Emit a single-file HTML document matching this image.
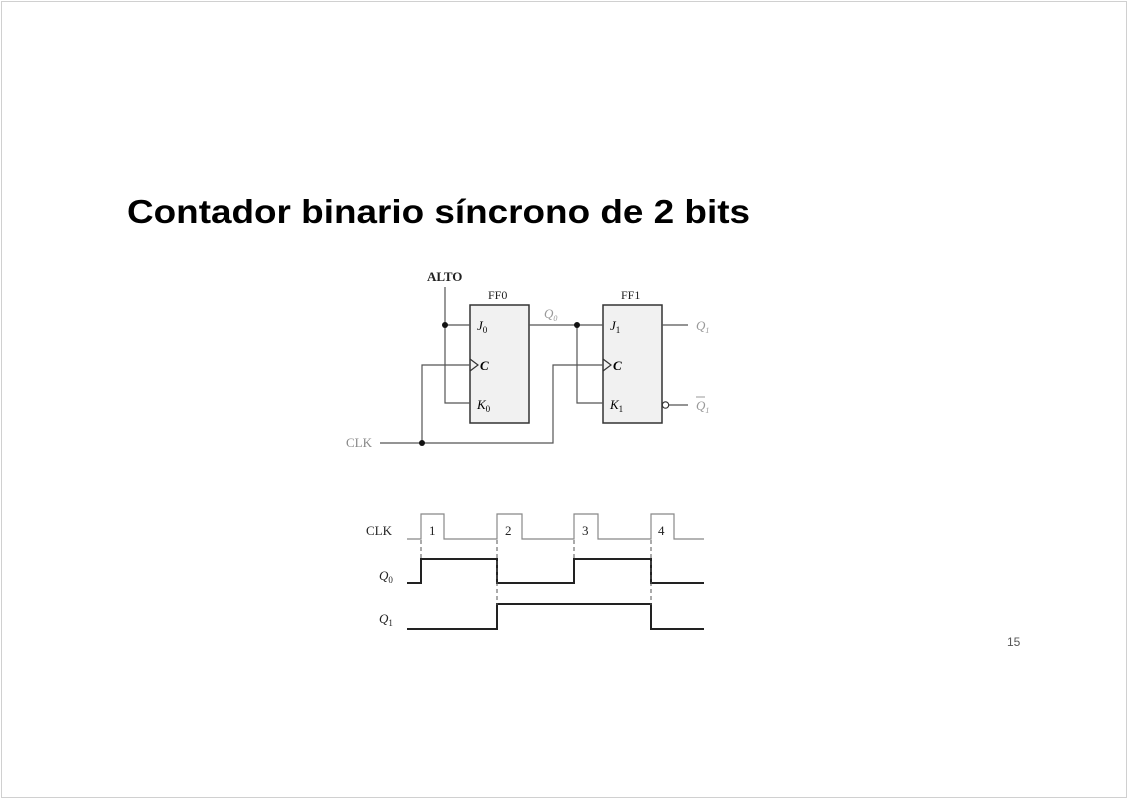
<!DOCTYPE html>
<html><head><meta charset="utf-8"><style>
html,body{margin:0;padding:0;background:#fff}
body{width:1128px;height:800px;overflow:hidden;position:relative}
</style></head><body>
<svg width="1128" height="800" xmlns="http://www.w3.org/2000/svg" style="position:absolute;left:0;top:0">
<rect x="1.5" y="1.5" width="1125" height="796" fill="#fff" stroke="#d0d0d0" stroke-width="1"/>
<text x="127" y="223" font-family="Liberation Sans, sans-serif" font-weight="bold" font-size="33" fill="#000" textLength="623" lengthAdjust="spacingAndGlyphs">Contador binario síncrono de 2 bits</text>
<text x="1007" y="646" font-family="Liberation Sans, sans-serif" font-size="12" fill="#555">15</text>
<g font-family="Liberation Serif, serif" font-size="13">
<rect x="470" y="305" width="59" height="118" fill="#f1f1f1" stroke="#333" stroke-width="1.5"/>
<rect x="603" y="305" width="59" height="118" fill="#f1f1f1" stroke="#333" stroke-width="1.5"/>
<g stroke="#555" stroke-width="1.2" fill="none">
<path d="M445 287V403H470M445 325H470"/>
<path d="M380 443H553V365H603M422 443V365H470"/>
<path d="M529 325H603M577 325V403H603"/>
<path d="M662 325H688M669 405H688"/>
<path d="M470 359L478 365L470 371M603 359L611 365L603 371" stroke="#333"/>
</g>
<circle cx="665.5" cy="405" r="3.2" fill="#fff" stroke="#333" stroke-width="1.2"/>
<circle cx="445" cy="325" r="3" fill="#111"/>
<circle cx="577" cy="325" r="3" fill="#111"/>
<circle cx="422" cy="443" r="3" fill="#111"/>
<text x="427" y="281" fill="#222" font-size="13" font-weight="bold">ALTO</text>
<text x="488" y="299" fill="#222" font-size="12">FF0</text>
<text x="621" y="299" fill="#222" font-size="12">FF1</text>
<text x="346" y="447" fill="#888">CLK</text>
<text x="544" y="318" fill="#999" font-style="italic">Q<tspan font-size="8" dy="3">0</tspan></text>
<text x="477" y="330" font-style="italic">J<tspan font-size="9" dy="3" font-style="normal">0</tspan></text>
<text x="477" y="409" font-style="italic">K<tspan font-size="9" dy="3" font-style="normal">0</tspan></text>
<text x="610" y="330" font-style="italic">J<tspan font-size="9" dy="3" font-style="normal">1</tspan></text>
<text x="610" y="409" font-style="italic">K<tspan font-size="9" dy="3" font-style="normal">1</tspan></text>
<text x="480" y="370" font-style="italic" font-weight="bold">C</text>
<text x="613" y="370" font-style="italic" font-weight="bold">C</text>
<text x="696" y="330" fill="#999" font-style="italic">Q<tspan font-size="8" dy="3">1</tspan></text>
<text x="696" y="410" fill="#999" font-style="italic">Q<tspan font-size="8" dy="3">1</tspan></text>
<path d="M696 397H705" stroke="#999" stroke-width="1"/>
</g>
<g font-family="Liberation Serif, serif" font-size="13" fill="#222">
<path d="M407 539H421V514H444V539H497V514H522V539H574V514H598V539H651V514H674V539H704" stroke="#888" stroke-width="1.2" fill="none"/>
<path d="M407 583H421V559H497V583H574V559H651V583H704" stroke="#222" stroke-width="2" fill="none"/>
<path d="M407 629H497V604H651V629H704" stroke="#222" stroke-width="2" fill="none"/>
<path d="M421 540V560M497 540V605M574 540V560M651 540V605" stroke="#555" stroke-width="1" stroke-dasharray="4,3" fill="none"/>
<text x="366" y="535">CLK</text>
<text x="429" y="535">1</text>
<text x="505" y="535">2</text>
<text x="582" y="535">3</text>
<text x="658" y="535">4</text>
<text x="379" y="580" font-style="italic">Q<tspan font-size="9" dy="3" font-style="normal">0</tspan></text>
<text x="379" y="623" font-style="italic">Q<tspan font-size="9" dy="3" font-style="normal">1</tspan></text>
</g>
</svg>
</body></html>
